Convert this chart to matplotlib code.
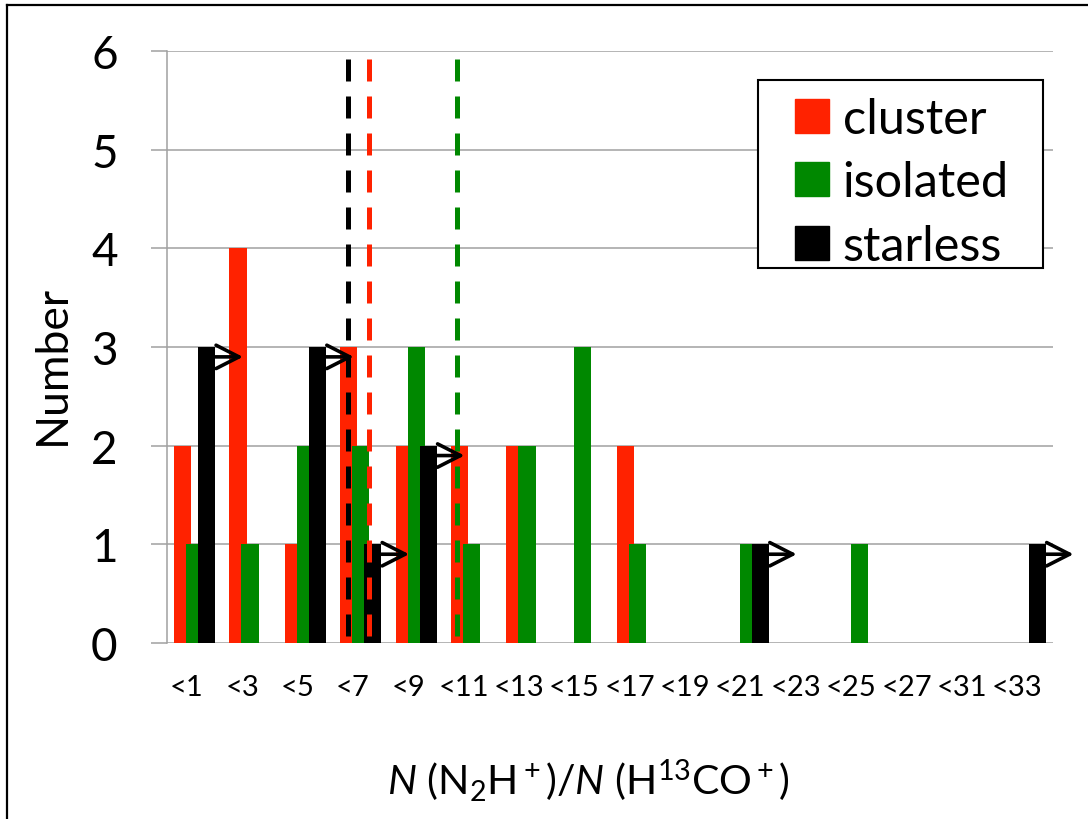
import matplotlib.pyplot as plt
import numpy as np
from matplotlib.lines import Line2D
from matplotlib.patches import Patch, Rectangle
from matplotlib.transforms import ScaledTranslation

plt.rcParams['font.family'] = ['Lato', 'DejaVu Sans']
plt.rcParams['mathtext.fontset'] = 'custom'
plt.rcParams['mathtext.rm'] = 'Lato'
plt.rcParams['mathtext.it'] = 'Lato:italic'

# N(N2H+)/N(H13CO+) bins and number of cores per bin
bins = ['<1', '<3', '<5', '<7', '<9', '<11', '<13', '<15',
        '<17', '<19', '<21', '<23', '<25', '<27', '<31', '<33']
cluster = [2, 4, 1, 3, 2, 2, 2, 0, 2, 0, 0, 0, 0, 0, 0, 0]
isolated = [1, 1, 2, 2, 3, 1, 2, 3, 1, 0, 1, 0, 1, 0, 0, 0]
starless = [3, 0, 3, 1, 2, 0, 0, 0, 0, 0, 1, 0, 0, 0, 0, 1]

# median of each sample, in bin-index units
median_cluster = 3.15
median_isolated = 4.73
median_starless = 2.76

red = '#ff2200'
green = '#008800'
black = '#000000'
grid_gray = '#a0a0a0'

W, H = 1088, 820
fig = plt.figure(figsize=(W / 100, H / 100), dpi=100)
ax = fig.add_axes([0.1535, 0.2146, 0.8143, 0.7220])

x = np.arange(len(bins))
width = 0.31
step = 0.217
ax.bar(x - step, cluster, width, color=red, zorder=2)
ax.bar(x, isolated, width, color=green, zorder=3)
ax.bar(x + step, starless, width, color=black, zorder=4)

# starless ratios are lower limits
for xi, v in zip(x, starless):
    if v > 0:
        x0 = xi + step + width / 2
        ax.annotate('', xy=(x0 + 0.5, v - 0.1), xytext=(x0, v - 0.1),
                    arrowprops=dict(arrowstyle='->,head_length=0.55,head_width=0.28',
                                    lw=2.6, color='k', mutation_scale=30,
                                    shrinkA=0, shrinkB=0,
                                    capstyle='round', joinstyle='round'),
                    annotation_clip=False, zorder=6)

for m, c in [(median_starless, black), (median_cluster, red), (median_isolated, green)]:
    ax.plot([m, m], [5.92, 0], color=c, lw=3.6, dashes=(4.4, 3.0),
            solid_capstyle='butt', dash_capstyle='butt', zorder=5)

ax.set_xlim(-0.5, len(bins) - 0.5)
ax.set_ylim(0, 6)
ax.set_yticks(range(7))
ax.set_xticks(x)
ax.set_xticklabels(bins, fontsize=21)
ax.tick_params(axis='x', length=0, pad=22)
ax.tick_params(axis='y', length=11.5, width=1.1, color=grid_gray, labelsize=33, pad=24)
for lab in ax.get_xticklabels():
    lab.set_transform(lab.get_transform() + ScaledTranslation(-0.08, 0, fig.dpi_scale_trans))

ax.yaxis.grid(True, color=grid_gray, lw=1.1)
ax.set_axisbelow(True)
for s in ['top', 'right', 'bottom']:
    ax.spines[s].set_visible(False)
ax.spines['left'].set_color(grid_gray)
ax.spines['left'].set_linewidth(1.1)

ax.set_ylabel('Number', fontsize=32, va='center')
ax.yaxis.set_label_coords(-0.129, 0.471)
ax.set_xlabel(r'$N$ (N$_2$H$^+$)/$N$ (H$^{13}$CO$^+$)', fontsize=29.5, va='center')
ax.xaxis.set_label_coords(0.476, -0.23)

# legend box drawn separately so the padding can differ per side
fig.add_artist(Rectangle((758 / W, 1 - 269 / H), 285 / W, 188 / H,
                         transform=fig.transFigure, facecolor='white',
                         edgecolor='k', lw=1.5, zorder=3))
handles = [Patch(color=red), Patch(color=green), Patch(color=black)]
leg = fig.legend(handles, ['cluster', 'isolated', 'starless'], fontsize=35,
                 loc='upper left', bbox_to_anchor=(795 / W, 1 - 98 / H),
                 borderaxespad=0, borderpad=0, frameon=False,
                 handlelength=0.7, handleheight=0.7, handletextpad=0.28,
                 labelspacing=0.4)
leg.set_zorder(6)

# outer frame on the left and top edges
bx = 7 / W
by = 1 - 6 / H
fig.add_artist(Line2D([bx, bx], [0, by], transform=fig.transFigure, color='k', lw=1.6))
fig.add_artist(Line2D([bx, 1], [by, by], transform=fig.transFigure, color='k', lw=1.6))

plt.savefig('out.png', dpi=100)
plt.close()
